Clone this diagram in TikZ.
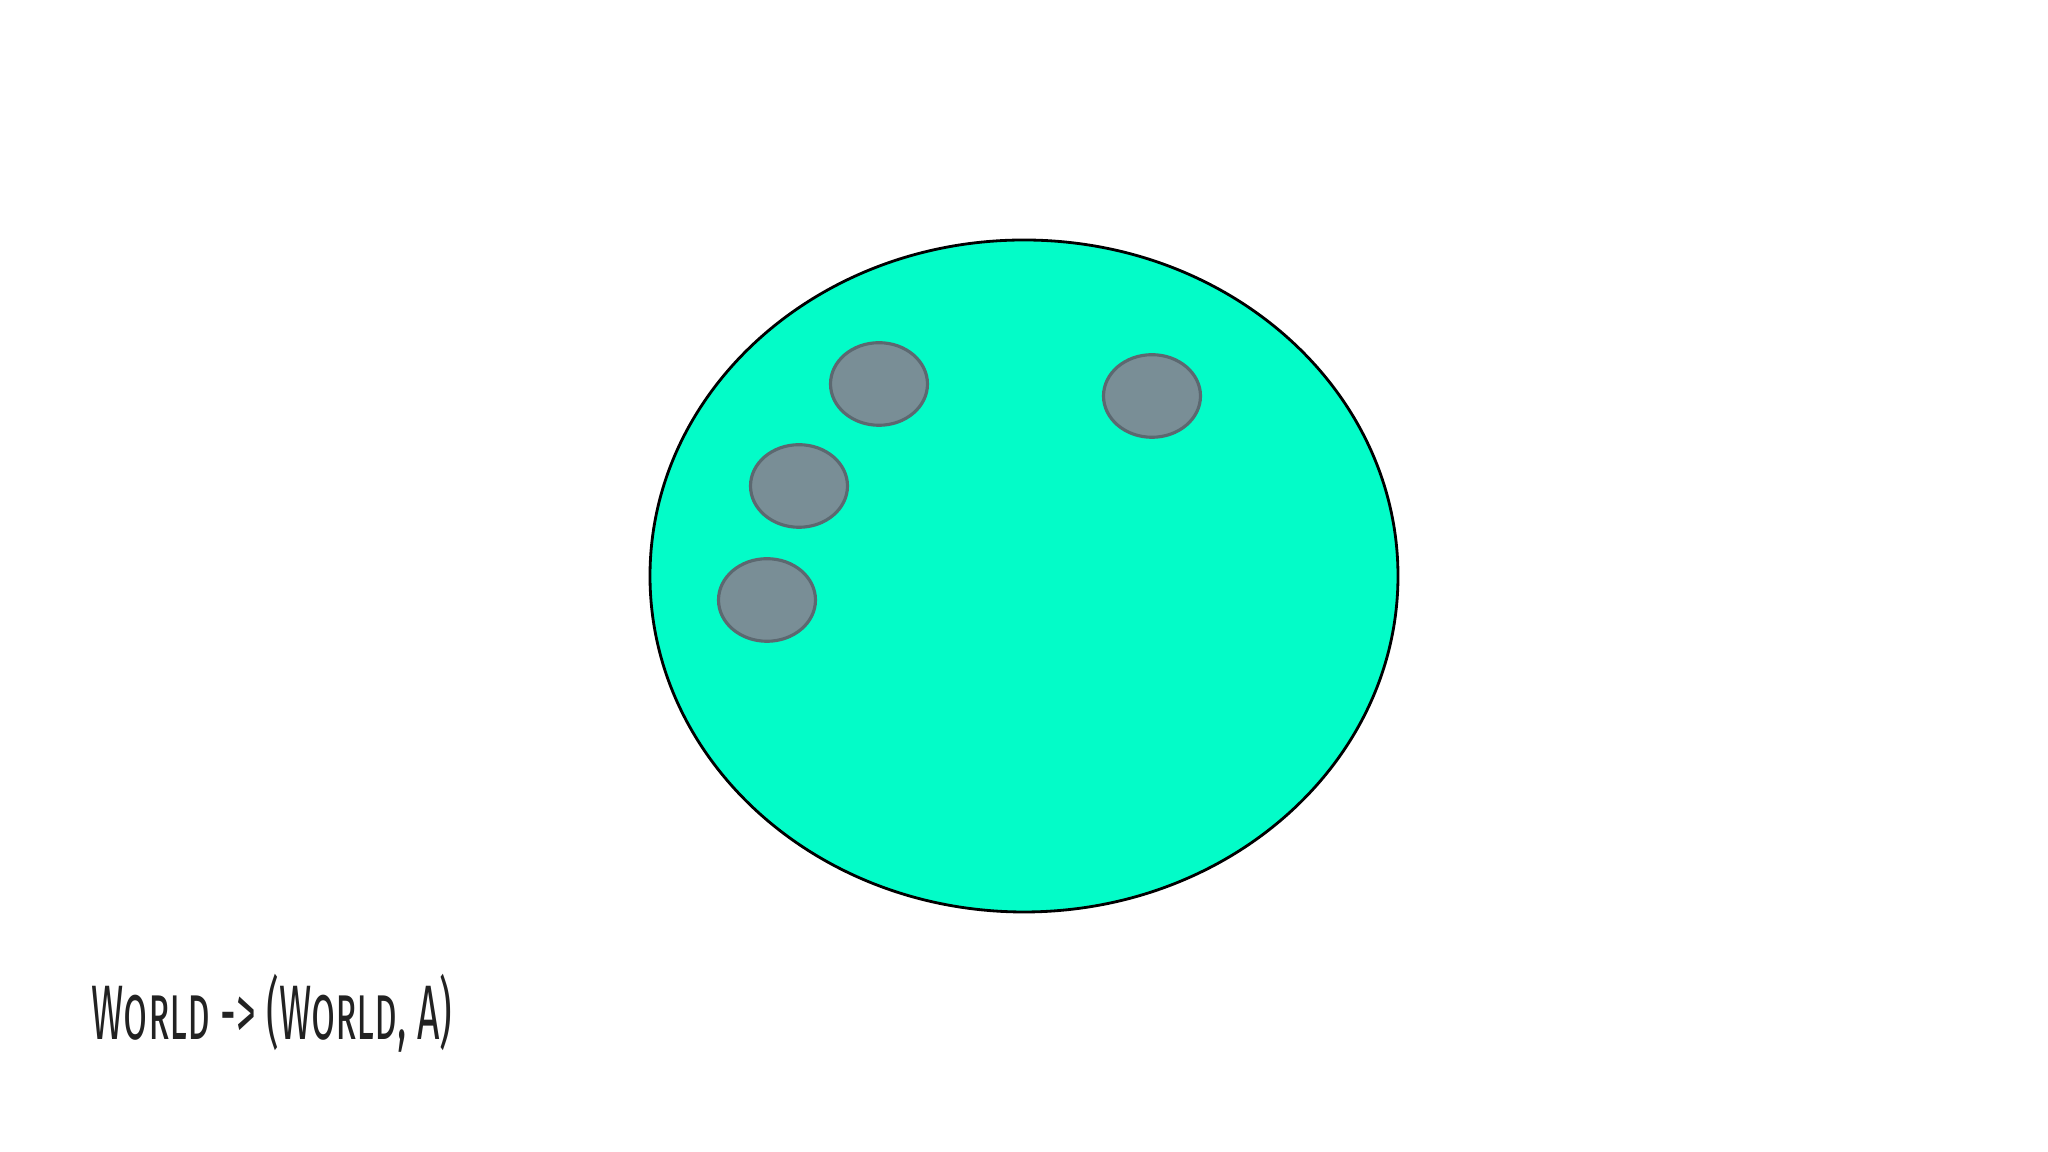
\documentclass[tikz,border=0pt]{standalone}
\usepackage{fontspec}
\newfontfamily\handfont{Fira Sans}[Letters=SmallCaps]
\begin{document}
\begin{tikzpicture}
\definecolor{worldcolor}{RGB}{3,252,200}
\definecolor{stonecolor}{RGB}{121,142,150}
\definecolor{stoneline}{RGB}{92,104,112}
\definecolor{inkcolor}{RGB}{34,34,34}
\pgfmathsetmacro\rx{0.485};
\pgfmathsetmacro\ry{0.413};
\useasboundingbox[fill = white] (0,0) rectangle (20.48,11.52);
\draw [fill = worldcolor, draw = black, line width = 0.8pt] (10.24,5.76) ellipse [x radius = 3.74, y radius = 3.36];
\foreach \x/\y in {8.79/7.68, 11.52/7.56, 7.99/6.66, 7.67/5.52} \draw [fill = stonecolor, draw = stoneline, line width = 0.9pt] (\x,\y) ellipse [x radius = \rx, y radius = \ry];
\node [anchor = base west, inner sep = 0pt, text = inkcolor] (caption) at (0.91,1.12) {\scalebox{0.505}[1]{\handfont\fontsize{22}{24}\selectfont World -> (World, A)}};
\end{tikzpicture}
\end{document}
